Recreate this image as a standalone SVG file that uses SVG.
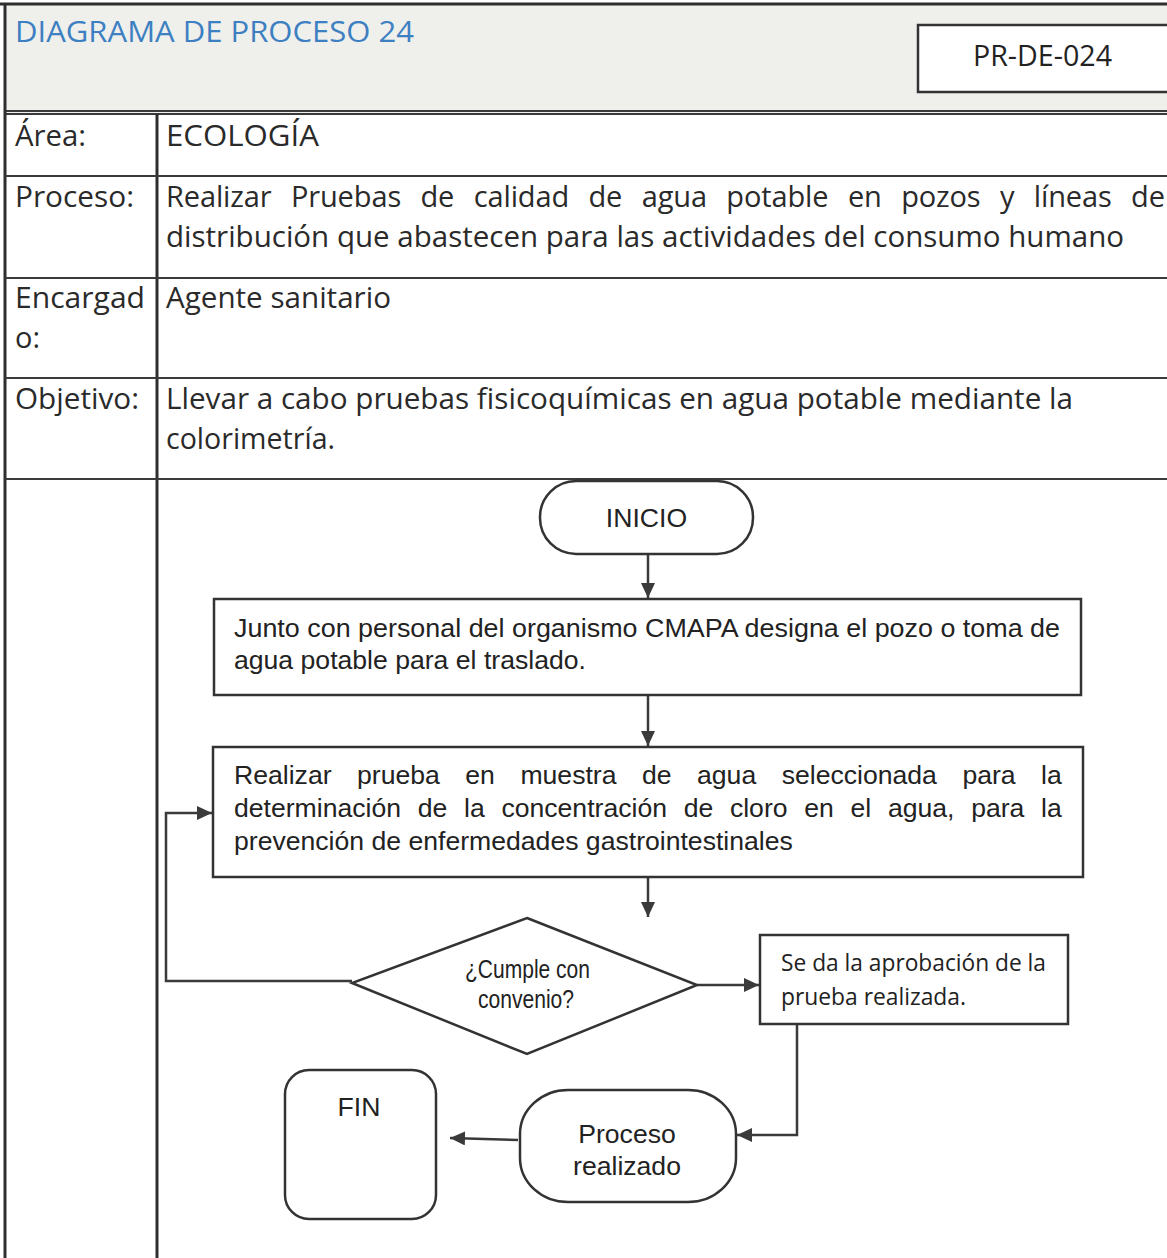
<svg xmlns="http://www.w3.org/2000/svg" width="1167" height="1258" viewBox="0 0 1167 1258">
<style>
.tbl{fill:none;stroke:#3a3a3a;stroke-width:2}
.thick{fill:none;stroke:#2e2e2e;stroke-width:3}
.t{font-family:"Open Sans","Liberation Sans",sans-serif;font-size:29px;fill:#2a2a2a}
.f{font-family:"Liberation Sans",Arial,sans-serif;font-size:26.6px;fill:#222}
.c{font-family:"Open Sans","Liberation Sans",sans-serif;fill:#222}
.shape{fill:#fff;stroke:#333;stroke-width:2.5}
.conn{fill:none;stroke:#3a3a3a;stroke-width:2.5}
</style>
<defs>
<marker id="ah" markerUnits="userSpaceOnUse" markerWidth="16" markerHeight="14" refX="15" refY="7" orient="auto">
<path d="M0,0 L15,7 L0,14 Z" fill="#3a3a3a"/>
</marker>
</defs>
<rect x="0" y="0" width="1167" height="1258" fill="#fff"/>
<g id="header">
<rect x="4" y="4" width="1163" height="109" fill="#efefec"/>
<line x1="0" y1="4" x2="1167" y2="4" class="thick"/>
<line x1="5" y1="111" x2="1167" y2="111" class="tbl"/>
<line x1="5" y1="114" x2="1167" y2="114" class="tbl"/>
<text x="15" y="42" font-family="'Open Sans','Liberation Sans',sans-serif" font-size="29" fill="#3d80c2" textLength="399" lengthAdjust="spacingAndGlyphs">DIAGRAMA DE PROCESO 24</text>
<rect x="918" y="25" width="262" height="67" fill="#fff" stroke="#333" stroke-width="2.5"/>
<text x="973" y="66" class="c" font-size="29" textLength="139" lengthAdjust="spacingAndGlyphs">PR-DE-024</text>
</g>
<g id="table">
<line x1="5" y1="4" x2="5" y2="1258" class="thick"/>
<line x1="157" y1="114" x2="157" y2="1258" class="thick"/>
<line x1="5" y1="176" x2="1167" y2="176" class="tbl"/>
<line x1="5" y1="278" x2="1167" y2="278" class="tbl"/>
<line x1="5" y1="378" x2="1167" y2="378" class="tbl"/>
<line x1="5" y1="479" x2="1167" y2="479" class="tbl"/>
<text x="15" y="146" class="t" textLength="71" lengthAdjust="spacingAndGlyphs">Área:</text>
<text x="166" y="146" class="t" textLength="153" lengthAdjust="spacingAndGlyphs">ECOLOGÍA</text>
<text x="15" y="207" class="t" textLength="119" lengthAdjust="spacingAndGlyphs">Proceso:</text>
<text x="166" y="207" class="t" word-spacing="12" textLength="999" lengthAdjust="spacing">Realizar Pruebas de calidad de agua potable en pozos y líneas de</text>
<text x="166" y="247" class="t" textLength="958" lengthAdjust="spacingAndGlyphs">distribución que abastecen para las actividades del consumo humano</text>
<text x="15" y="308" class="t" textLength="130" lengthAdjust="spacingAndGlyphs">Encargad</text>
<text x="15" y="348" class="t" textLength="25" lengthAdjust="spacingAndGlyphs">o:</text>
<text x="166" y="308" class="t" textLength="225" lengthAdjust="spacingAndGlyphs">Agente sanitario</text>
<text x="15" y="409" class="t" textLength="124" lengthAdjust="spacingAndGlyphs">Objetivo:</text>
<text x="166" y="409" class="t" textLength="907" lengthAdjust="spacingAndGlyphs">Llevar a cabo pruebas fisicoquímicas en agua potable mediante la</text>
<text x="166" y="449" class="t" textLength="169" lengthAdjust="spacingAndGlyphs">colorimetría.</text>
</g>
<g id="connectors">
<line x1="648" y1="554" x2="648" y2="598" class="conn" marker-end="url(#ah)"/>
<line x1="648" y1="695" x2="648" y2="746" class="conn" marker-end="url(#ah)"/>
<line x1="648" y1="877" x2="648" y2="917" class="conn" marker-end="url(#ah)"/>
<polyline points="352,981 166,981 166,813 212,813" class="conn" marker-end="url(#ah)"/>
<line x1="697" y1="985" x2="759" y2="985" class="conn" marker-end="url(#ah)"/>
<polyline points="797,1024 797,1135 737,1135" class="conn" marker-end="url(#ah)"/>
<line x1="518" y1="1140" x2="450" y2="1138" class="conn" marker-end="url(#ah)"/>
</g>
<g id="inicio">
<rect x="540" y="481" width="213" height="73" rx="36" ry="36" class="shape"/>
<text x="646.5" y="527" class="f" text-anchor="middle">INICIO</text>
</g>
<g id="designa">
<rect x="214" y="599" width="867" height="96" class="shape"/>
<text x="234" y="637" class="f" textLength="826" lengthAdjust="spacingAndGlyphs">Junto con personal del organismo CMAPA designa el pozo o toma de</text>
<text x="234" y="669" class="f">agua potable para el traslado.</text>
</g>
<g id="prueba">
<rect x="213" y="747" width="870" height="130" class="shape"/>
<text x="234" y="784" class="f" word-spacing="18.1">Realizar prueba en muestra de agua seleccionada para la</text>
<text x="234" y="817" class="f" word-spacing="9.3">determinación de la concentración de cloro en el agua, para la</text>
<text x="234" y="850" class="f">prevención de enfermedades gastrointestinales</text>
</g>
<g id="decision">
<polygon points="527,918 697,985 527,1054 352,983" class="shape"/>
<text x="465" y="978" class="f" font-size="18.5" textLength="125" lengthAdjust="spacingAndGlyphs">¿Cumple con</text>
<text x="478" y="1008" class="f" font-size="18.5" textLength="96" lengthAdjust="spacingAndGlyphs">convenio?</text>
</g>
<g id="aprobacion">
<rect x="760" y="935" width="308" height="89" class="shape"/>
<text x="781" y="971" class="c" font-size="23" textLength="265" lengthAdjust="spacingAndGlyphs">Se da la aprobación de la</text>
<text x="781" y="1005" class="c" font-size="23" textLength="185" lengthAdjust="spacingAndGlyphs">prueba realizada.</text>
</g>
<g id="proceso-realizado">
<rect x="520" y="1090" width="216" height="112" rx="48" ry="44" class="shape"/>
<text x="627" y="1143" class="f" text-anchor="middle">Proceso</text>
<text x="627" y="1175" class="f" text-anchor="middle">realizado</text>
</g>
<g id="fin">
<rect x="285" y="1070" width="151" height="149" rx="24" ry="24" class="shape"/>
<text x="359" y="1116" class="f" font-size="25" text-anchor="middle">FIN</text>
</g>
</svg>
